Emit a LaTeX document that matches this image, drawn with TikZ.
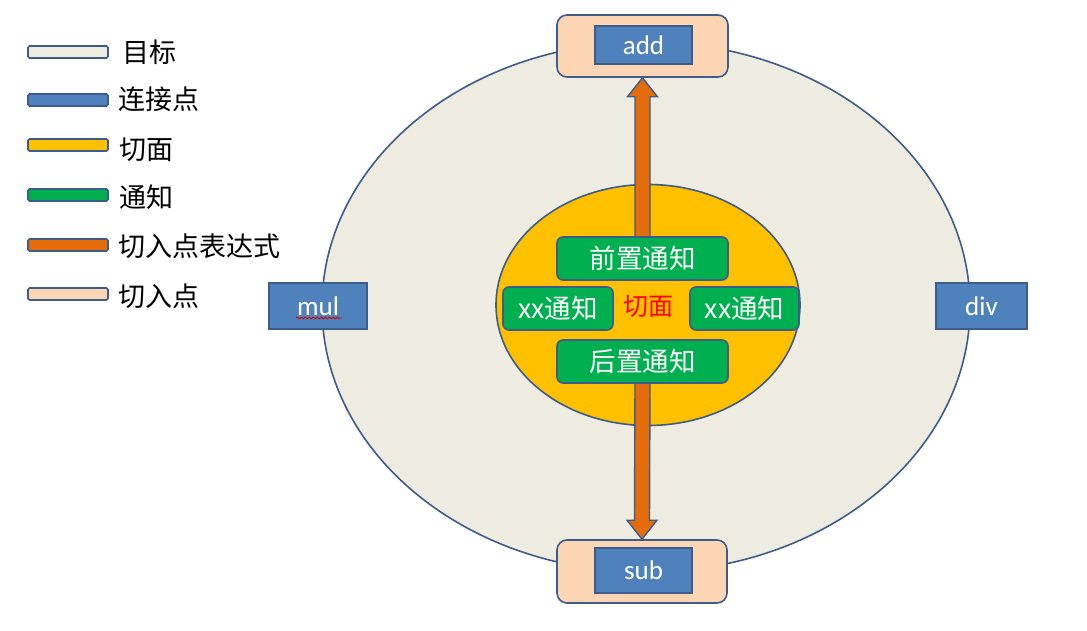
\documentclass[tikz,border=0pt]{standalone}
\usepackage{fontspec}
\setmainfont{Carlito}
\newfontfamily\cjk{Noto Sans CJK SC}
\usetikzlibrary{calc,shapes.geometric,decorations.pathmorphing}
\definecolor{tgtfill}{HTML}{EEECE1}
\definecolor{edgeblue}{HTML}{3E5C8A}
\definecolor{jpblue}{HTML}{4F81BD}
\definecolor{aspyel}{HTML}{FFC000}
\definecolor{advgreen}{HTML}{00B050}
\definecolor{pcorange}{HTML}{E46C0A}
\definecolor{pcpeach}{HTML}{FCD5B5}
\begin{document}
\begin{tikzpicture}[x=1pt,y=-1pt,
  edge/.style={draw=edgeblue,line width=1.6pt},
  target/.style={edge,ellipse,fill=tgtfill,inner sep=0pt},
  aspect/.style={edge,ellipse,fill=aspyel,inner sep=0pt},
  joinpt/.style={edge,fill=jpblue,inner sep=0pt,text=white,font=\fontsize{27}{30}\selectfont},
  pcut/.style={edge,fill=pcpeach,rounded corners=10pt,inner sep=0pt},
  advice/.style={edge,fill=advgreen,rounded corners=6pt,inner sep=0pt,text=white,font=\cjk\fontsize{26.5}{30}\selectfont},
  pcexpr/.style={draw=edgeblue,line width=1.4pt,fill=pcorange,line join=miter},
  legbar/.style={edge,rounded corners=1.5pt,minimum width=80pt,minimum height=12pt,inner sep=0pt},
  legtext/.style={anchor=west,inner sep=0pt,font=\cjk\fontsize{27}{30}\selectfont}]
\useasboundingbox (0,0) rectangle (1087,631);
\fill[white] (0,0) rectangle (1087,631);

% legend
\node[legbar,fill=tgtfill] (l1) at (68,52) {};
\node[legbar,fill=jpblue] (l2) at (68,100) {};
\node[legbar,fill=aspyel] (l3) at (68,145) {};
\node[legbar,fill=advgreen] (l4) at (68,195) {};
\node[legbar,fill=pcorange] (l5) at (68,245) {};
\node[legbar,fill=pcpeach] (l6) at (68,294) {};
\node[legtext] (t1) at (122,52) {目标};
\node[legtext] (t2) at (118,99) {连接点};
\node[legtext] (t3) at (119,150) {切面};
\node[legtext] (t4) at (119,197) {通知};
\node[legtext] (t5) at (118,246) {切入点表达式};
\node[legtext] (t6) at (118,296) {切入点};

% target and aspect
\node[target,minimum width=648pt,minimum height=530pt] (tgt) at (646,307) {};
\node[aspect,minimum width=304pt,minimum height=241pt] (asp) at (648,305) {};

% join points / pointcuts
\node[pcut,minimum width=171pt,minimum height=62pt] (addo) at (642.5,46) {};
\node[joinpt,minimum width=97pt,minimum height=38pt] (add) at (643.5,45) {add};
\node[pcut,minimum width=170pt,minimum height=63pt] (subo) at (642,571.5) {};
\node[joinpt,minimum width=97pt,minimum height=45pt] (sub) at (643.5,570.5) {sub};
\node[joinpt,minimum width=98pt,minimum height=46pt] (mul) at (318,306) {mul};
\node[joinpt,minimum width=91pt,minimum height=46pt] (div) at (981.5,306) {div};
\draw[red!85!black,line width=0.8pt,decorate,decoration={snake,amplitude=0.9pt,segment length=4pt}]
  ($(mul.center)+(-22,12)$) -- ($(mul.center)+(24,12)$);

\path (642.5,258.5) coordinate (prec) (642.5,361.5) coordinate (postc);

% pointcut expression arrows
\draw[pcexpr] ($(prec)+(-7.5,-21.5)$) -- ($(addo.south)+(-7.5,19)$) -- ($(addo.south)+(-15,19)$)
  -- (addo.south) -- ($(addo.south)+(15,19)$) -- ($(addo.south)+(7.5,19)$) -- ($(prec)+(7.5,-21.5)$);
\draw[pcexpr] ($(postc)+(-7.5,21.5)$) -- ($(subo.north)+(-7.5,-19)$) -- ($(subo.north)+(-15,-19)$)
  -- (subo.north) -- ($(subo.north)+(15,-19)$) -- ($(subo.north)+(7.5,-19)$) -- ($(postc)+(7.5,21.5)$);

% advices
\node[advice,minimum width=171pt,minimum height=43pt] (pre) at (prec) {前置通知};
\node[advice,minimum width=110pt,minimum height=43pt] (xxl) at (558,308.5) {xx通知};
\node[advice,minimum width=109pt,minimum height=43pt] (xxr) at (744.5,308.5) {xx通知};
\node[advice,minimum width=171pt,minimum height=43pt] (post) at (postc) {后置通知};
\node[text=red,font=\cjk\fontsize{25}{28}\selectfont,inner sep=0pt] (asplbl) at (648,306) {切面};
\end{tikzpicture}
\end{document}
